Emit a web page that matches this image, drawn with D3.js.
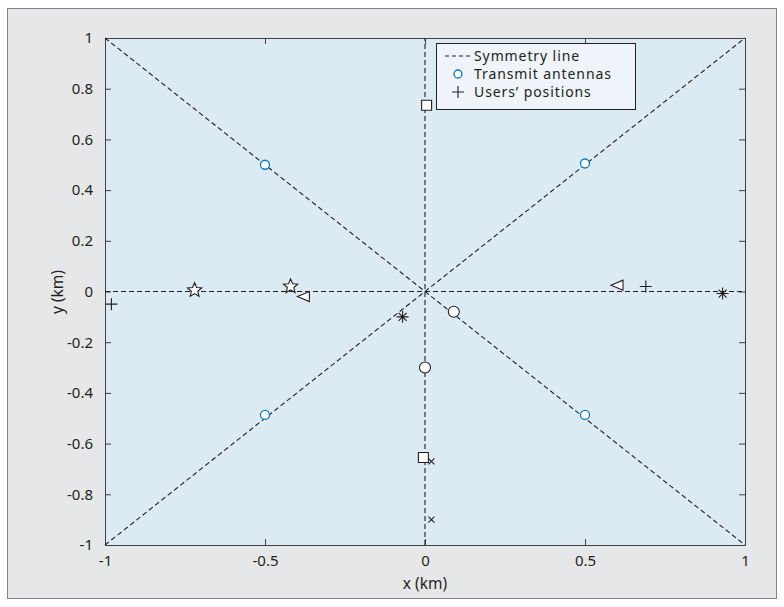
<!DOCTYPE html>
<html>
<head>
<script src="https://d3js.org/d3.v7.min.js"></script>
<style>
  body { margin: 0; background: #fff; }
  text { fill: #231f20; }
</style>
</head>
<body>
<script>
// symmetry lines, as pairs of end points
var symLines = [
  [[-1, 1], [1, -1]],
  [[-1, -1], [1, 1]],
  [[0, -1], [0, 1]],
  [[-1, 0], [1, 0]]
];
var antennaX = [-0.5, 0.5, -0.5, 0.5];
var antennaY = [0.5, 0.505, -0.487, -0.487];

var userType = ["plus", "plus", "square", "square", "circle", "circle", "star", "star",
                "tri", "tri", "aster", "aster", "cross", "cross"];
var userX = [-0.98, 0.69, 0.005, -0.005, 0.0, 0.09, -0.72, -0.42, -0.38, 0.6, 0.93, -0.07, 0.02, 0.02];
var userY = [-0.05, 0.02, 0.735, -0.655, -0.3, -0.08, 0.005, 0.02, -0.02, 0.025, -0.008, -0.1, -0.67, -0.9];

var ticks = [-1, -0.8, -0.6, -0.4, -0.2, 0, 0.2, 0.4, 0.6, 0.8, 1];
var xticks = [-1, -0.5, 0, 0.5, 1];
var legendItems = ["Symmetry line", "Transmit antennas", "Users\u2019 positions"];

var W = 784, H = 607;
var svg = d3.select("body").append("svg").attr("width", W).attr("height", H)
  .style("font-family", "'Noto Sans', sans-serif");

svg.append("rect").attr("x", 7.5).attr("y", 8.5).attr("width", 769).attr("height", 590)
  .attr("fill", "#e6e7e8").attr("stroke", "#808285").attr("stroke-width", 1);

var x = d3.scaleLinear().domain([-1, 1]).range([105, 745]);
var y = d3.scaleLinear().domain([-1, 1]).range([545, 38]);

svg.append("rect").attr("x", 105).attr("y", 38).attr("width", 640).attr("height", 507)
  .attr("fill", "#dceaf4");

var fmt = function(d){ return d === 0 ? "0" : String(d); };

// axes, ticks pointing in
var ax = [
  svg.append("g").attr("transform", "translate(0,545)").call(d3.axisBottom(x).tickValues(xticks).tickSizeInner(-6).tickSizeOuter(0).tickPadding(10).tickFormat(fmt)),
  svg.append("g").attr("transform", "translate(0,38)").call(d3.axisTop(x).tickValues(xticks).tickSizeInner(-6).tickSizeOuter(0).tickFormat("")),
  svg.append("g").attr("transform", "translate(105,0)").call(d3.axisLeft(y).tickValues(ticks).tickSizeInner(-6).tickSizeOuter(0).tickPadding(12).tickFormat(fmt)),
  svg.append("g").attr("transform", "translate(745,0)").call(d3.axisRight(y).tickValues(ticks).tickSizeInner(-6).tickSizeOuter(0).tickFormat(""))
];
ax.forEach(function(g){
  g.attr("font-family", null).attr("font-size", null);
  g.select(".domain").attr("stroke", "#414042");
  g.selectAll(".tick line").attr("stroke", "#414042");
  g.selectAll("text").style("font-size", "15px").attr("fill", "#231f20");
});

svg.append("text").attr("x", 425).attr("y", 589).attr("text-anchor", "middle")
  .style("font-size", "15.5px").text("x (km)");
svg.append("text").attr("transform", "translate(63,292) rotate(-90)").attr("text-anchor", "middle")
  .style("font-size", "15.5px").text("y (km)");

var plot = svg.append("g");
plot.selectAll("line.sym").data(symLines).enter().append("line")
  .attr("x1", function(d){ return x(d[0][0]); }).attr("y1", function(d){ return y(d[0][1]); })
  .attr("x2", function(d){ return x(d[1][0]); }).attr("y2", function(d){ return y(d[1][1]); })
  .attr("stroke", "#231f20").attr("stroke-width", 1.1).attr("stroke-dasharray", "5,3");

plot.selectAll("circle.ant").data(antennaX).enter().append("circle")
  .attr("cx", function(d){ return x(d); }).attr("cy", function(d, i){ return y(antennaY[i]); })
  .attr("r", 4.5).attr("fill", "#fff").attr("stroke", "#0a78c2").attr("stroke-width", 1.3);

function markerPath(t) {
  if (t === "plus") return "M-6,0H6M0,-6V6";
  if (t === "cross") return "M-3,-3L3,3M-3,3L3,-3";
  if (t === "aster") return "M-6,0H6M0,-6V6M-4,-4L4,4M-4,4L4,-4";
  if (t === "square") return "M-5,-5H5V5H-5Z";
  if (t === "tri") return "M-6,0L6,-5V5Z";
  if (t === "circle") return d3.symbol().type(d3.symbolCircle).size(95)();
  if (t === "star") {
    var p = [];
    for (var k = 0; k < 10; k++) {
      var r = k % 2 === 0 ? 7.5 : 3.4, a = -Math.PI / 2 + k * Math.PI / 5;
      p.push([r * Math.cos(a), r * Math.sin(a)]);
    }
    return "M" + p.map(function(q){ return q[0].toFixed(2) + "," + q[1].toFixed(2); }).join("L") + "Z";
  }
}
var filled = { square: 1, tri: 1, circle: 1, star: 1 };

plot.selectAll("path.user").data(userType).enter().append("path")
  .attr("transform", function(d, i){ return "translate(" + x(userX[i]) + "," + y(userY[i]) + ")"; })
  .attr("d", markerPath)
  .attr("fill", function(d){ return filled[d] ? "#fff" : "none"; })
  .attr("stroke", "#231f20").attr("stroke-width", 1.1);

// legend
var lg = svg.append("g").attr("transform", "translate(436,43)");
lg.append("rect").attr("x", 0.5).attr("y", 0.5).attr("width", 199).attr("height", 66)
  .attr("fill", "#eef4f9").attr("stroke", "#231f20").attr("stroke-width", 1);
legendItems.forEach(function(s, i){
  var cy = 13 + i * 18;
  if (i === 0) lg.append("line").attr("x1", 9).attr("x2", 36).attr("y1", cy).attr("y2", cy)
    .attr("stroke", "#231f20").attr("stroke-dasharray", "4,3");
  if (i === 1) lg.append("circle").attr("cx", 22).attr("cy", cy).attr("r", 4)
    .attr("fill", "#fff").attr("stroke", "#0a78c2").attr("stroke-width", 1.3);
  if (i === 2) lg.append("path").attr("transform", "translate(22," + cy + ")").attr("d", "M-6,0H6M0,-6V6")
    .attr("stroke", "#231f20").attr("stroke-width", 1.1);
  lg.append("text").attr("x", 38).attr("y", cy + 5)
    .style("font-size", "14px").style("letter-spacing", "0.9px").text(s);
});
</script>
</body>
</html>
